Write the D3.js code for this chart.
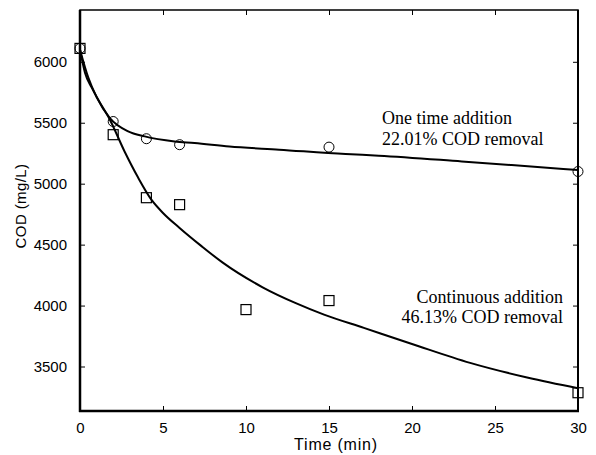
<!DOCTYPE html>
<html>
<head>
<meta charset="utf-8">
<script src="https://cdn.jsdelivr.net/npm/d3@7/dist/d3.min.js"></script>
<style>
  html, body { margin: 0; padding: 0; background: #fff; }
  svg { display: block; }
</style>
</head>
<body>
<svg id="chart" width="596" height="455"></svg>
<script>
// Measured COD (mg/L) over time (min)
const oneTimeT   = [0, 2, 4, 6, 15, 30];
const oneTimeCOD = [6110, 5510, 5369, 5320, 5300, 5100];

const continuousT   = [0, 2, 4, 6, 10, 15, 30];
const continuousCOD = [6110, 5402, 4885, 4828, 3967, 4041, 3285];

// Fitted decay curves
const oneTimeFitT = [0, 0.5, 1, 1.8, 2.9, 3.9, 5.7, 6.9, 9, 12, 16, 18, 23, 26, 30];
const oneTimeFitV = [6100, 5870, 5710, 5538, 5429, 5388, 5347, 5334, 5305, 5279, 5243, 5230, 5183, 5153, 5112];

const continuousFitT = [0, 0.3, 0.7, 1.1, 1.8, 2.7, 3.5, 4.3, 5, 6, 7.3, 8.6, 11, 13, 14.7, 17.1, 20, 23.5, 27, 30];
const continuousFitV = [6100, 5910, 5790, 5689, 5525, 5260, 5050, 4869, 4760, 4637, 4490, 4352, 4150, 4020, 3926, 3817, 3685, 3530, 3408, 3322];

// Axis ticks
const xTicks = [0, 5, 10, 15, 20, 25, 30];
const yTicks = [3500, 4000, 4500, 5000, 5500, 6000];

const oneTimeLabel = ["One time addition", "22.01% COD removal"];
const continuousLabel = ["Continuous addition", "46.13% COD removal"];

const svg = d3.select("#chart");
const plotL = 80, plotR = 578, plotT = 10, plotB = 411;

const x = d3.scaleLinear().domain([0, 30]).range([plotL, plotR]);
const y = d3.scaleLinear().domain([3135, 6425]).range([plotB, plotT]);

const sans = "'Liberation Sans', Arial, sans-serif";
const serif = "'Liberation Serif', 'Times New Roman', serif";

// Axes with inward ticks on all four sides
const axisStyle = g => {
  g.select(".domain").remove();
  g.selectAll(".tick line").attr("stroke", "#000").attr("stroke-width", 1);
  g.selectAll(".tick text").attr("font-family", sans).attr("font-size", 15).attr("fill", "#000");
};

svg.append("g")
  .attr("transform", `translate(0,${plotB})`)
  .call(d3.axisBottom(x).tickValues(xTicks).tickFormat(d3.format("d")).tickSizeInner(-5).tickSizeOuter(0).tickPadding(11))
  .call(axisStyle);

svg.append("g")
  .attr("transform", `translate(0,${plotT})`)
  .call(d3.axisTop(x).tickValues(xTicks).tickFormat("").tickSizeInner(-5).tickSizeOuter(0))
  .call(axisStyle);

svg.append("g")
  .attr("transform", `translate(${plotL},0)`)
  .call(d3.axisLeft(y).tickValues(yTicks).tickFormat(d3.format("d")).tickSizeInner(-5).tickSizeOuter(0).tickPadding(13))
  .call(axisStyle);

svg.append("g")
  .attr("transform", `translate(${plotR},0)`)
  .call(d3.axisRight(y).tickValues(yTicks).tickFormat("").tickSizeInner(-5).tickSizeOuter(0))
  .call(axisStyle);

// Plot frame
svg.append("rect")
  .attr("x", plotL).attr("y", plotT)
  .attr("width", plotR - plotL).attr("height", plotB - plotT)
  .attr("fill", "none").attr("stroke", "#000").attr("stroke-width", 1.5);
svg.append("line").attr("x1", plotL).attr("x2", plotL).attr("y1", plotT).attr("y2", plotB + 1)
  .attr("stroke", "#000").attr("stroke-width", 2.5);
svg.append("line").attr("x1", plotL - 1).attr("x2", plotR + 1).attr("y1", plotB).attr("y2", plotB)
  .attr("stroke", "#000").attr("stroke-width", 2.5);
svg.append("line").attr("x1", plotR).attr("x2", plotR).attr("y1", plotT).attr("y2", plotB)
  .attr("stroke", "#000").attr("stroke-width", 2);

// Fitted curves
const line = d3.line().x(d => x(d[0])).y(d => y(d[1])).curve(d3.curveMonotoneX);
svg.append("path")
  .datum(d3.zip(oneTimeFitT, oneTimeFitV))
  .attr("d", line).attr("fill", "none").attr("stroke", "#000").attr("stroke-width", 2);
svg.append("path")
  .datum(d3.zip(continuousFitT, continuousFitV))
  .attr("d", line).attr("fill", "none").attr("stroke", "#000").attr("stroke-width", 2);

// Measured points
svg.append("g").selectAll("circle")
  .data(d3.zip(oneTimeT, oneTimeCOD))
  .join("circle")
  .attr("cx", d => x(d[0])).attr("cy", d => y(d[1])).attr("r", 5)
  .attr("fill", "none").attr("stroke", "#000").attr("stroke-width", 1);

const sq = 10;
svg.append("g").selectAll("rect")
  .data(d3.zip(continuousT, continuousCOD))
  .join("rect")
  .attr("x", d => x(d[0]) - sq / 2).attr("y", d => y(d[1]) - sq / 2)
  .attr("width", sq).attr("height", sq)
  .attr("fill", "none").attr("stroke", "#000").attr("stroke-width", 1.2);

// Axis titles
svg.append("text")
  .attr("x", 336).attr("y", 450)
  .attr("text-anchor", "middle")
  .attr("font-family", sans).attr("font-size", 16).attr("letter-spacing", 0.8)
  .text("Time (min)");

svg.append("text")
  .attr("transform", "translate(26,206) rotate(-90)")
  .attr("text-anchor", "middle")
  .attr("font-family", sans).attr("font-size", 15).attr("letter-spacing", 0.4)
  .text("COD (mg/L)");

// Curve annotations
svg.append("g").selectAll("text")
  .data(oneTimeLabel)
  .join("text")
  .attr("x", 382).attr("y", (d, i) => 124 + i * 21)
  .attr("font-family", serif).attr("font-size", 18)
  .text(d => d);

svg.append("g").selectAll("text")
  .data(continuousLabel)
  .join("text")
  .attr("x", 563).attr("y", (d, i) => 303 + i * 20)
  .attr("text-anchor", "end")
  .attr("font-family", serif).attr("font-size", 18)
  .text(d => d);
</script>
</body>
</html>
